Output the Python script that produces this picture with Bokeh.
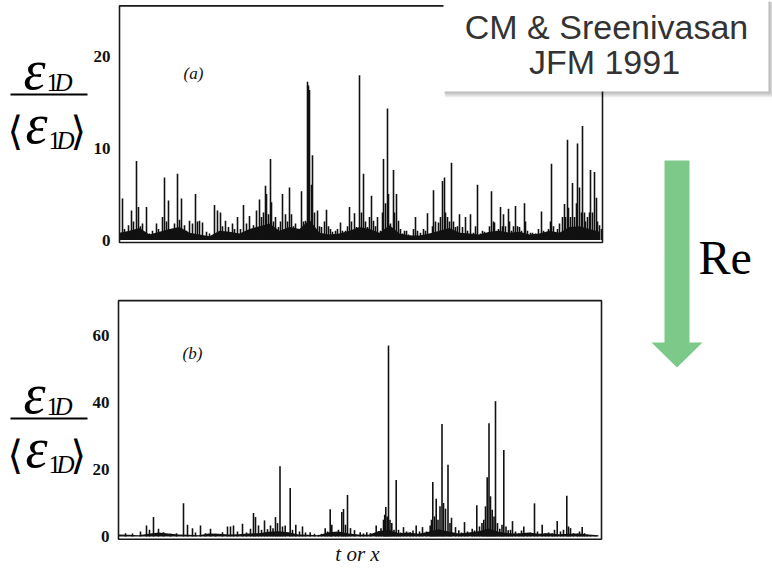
from bokeh.plotting import figure
from bokeh.models import Range1d
from bokeh.embed import file_html
from bokeh.resources import INLINE
from bokeh.core.properties import value

# ---------------- data ----------------
# panel (a): sample position along the record, spike height eps/<eps>
spikes_a = [
    (3, 4.5), (5, 1.2), (9, 1.6), (12, 3.2), (14, 2.0), (17, 8.6), (19, 3.6), (21, 1.5), (23, 1.8),
    (27, 3.6), (30, 0.7), (33, 1.0), (37, 1.8), (39, 1.2), (43, 2.5), (45, 6.8), (47, 2.0), (49, 4.3),
    (52, 1.0), (55, 1.8), (58, 7.2), (60, 2.2), (62, 4.5), (65, 1.6), (67, 1.0), (70, 2.1), (73, 1.8),
    (76, 5.0), (78, 2.0), (80, 2.1), (83, 1.9), (87, 0.9), (90, 0.7), (95, 3.8), (98, 3.2), (101, 3.0),
    (103, 1.5), (106, 2.1), (109, 1.4), (113, 1.8), (115, 1.2), (118, 2.5), (121, 1.2), (124, 3.8),
    (127, 1.8), (130, 2.6), (134, 1.6), (137, 3.2), (140, 4.4), (142, 2.5), (144, 3.0), (146, 5.9),
    (147, 5.0), (149, 2.8), (151, 8.8), (152, 4.1), (154, 2.0), (156, 2.5), (159, 1.4), (161, 2.0),
    (163, 5.0), (166, 2.8), (168, 2.0), (170, 5.7), (172, 2.8), (174, 1.5), (176, 1.8), (179, 1.0),
    (182, 5.3), (184, 2.0), (186, 2.1), (188, 17.2), (189, 16.8), (190, 16.3), (192, 6.0), (193, 9.2),
    (195, 3.0), (198, 3.2), (200, 1.5), (202, 1.4), (205, 2.0), (207, 3.3), (209, 1.5), (211, 1.2),
    (213, 0.9), (216, 1.0), (218, 1.2), (221, 1.9), (223, 1.0), (226, 1.0), (228, 1.5), (230, 3.6),
    (232, 2.0), (235, 2.9), (237, 1.4), (240, 17.9), (242, 3.0), (244, 7.2), (246, 2.0), (248, 1.4),
    (250, 2.5), (252, 4.8), (254, 2.1), (256, 1.5), (258, 2.5), (261, 1.0), (263, 3.0), (264, 8.8),
    (266, 4.0), (268, 14.3), (269, 5.0), (271, 1.8), (274, 7.6), (275, 3.0), (277, 5.0), (279, 2.1),
    (281, 1.2), (283, 0.7), (285, 1.0), (287, 1.0), (289, 0.6), (291, 0.5), (294, 1.2), (296, 2.5),
    (298, 1.0), (301, 0.8), (304, 1.2), (306, 1.0), (308, 2.9), (311, 0.7), (313, 1.5), (314, 5.4),
    (316, 2.0), (319, 1.9), (321, 2.5), (323, 6.4), (325, 6.8), (326, 3.0), (328, 2.5), (330, 2.0),
    (332, 8.4), (334, 2.0), (336, 1.4), (338, 1.5), (340, 2.8), (343, 1.4), (346, 2.5), (348, 1.0),
    (351, 2.8), (354, 0.8), (356, 1.5), (358, 6.0), (361, 0.7), (363, 1.0), (365, 0.9), (368, 0.7),
    (370, 1.5), (372, 5.3), (374, 2.0), (375, 1.9), (377, 1.0), (379, 1.2), (381, 3.6), (383, 1.5),
    (384, 2.8), (386, 1.5), (389, 3.4), (390, 2.0), (392, 1.0), (394, 1.5), (396, 3.7), (398, 1.5),
    (400, 1.4), (402, 1.0), (405, 4.0), (406, 2.0), (408, 1.0), (411, 0.8), (413, 0.8), (416, 0.7),
    (419, 1.2), (422, 3.1), (424, 1.0), (426, 0.7), (429, 1.2), (431, 2.0), (432, 8.3), (434, 1.5),
    (436, 0.8), (438, 1.2), (440, 1.8), (443, 2.5), (445, 3.9), (446, 2.5), (448, 10.9), (449, 3.5),
    (451, 2.5), (453, 6.2), (455, 2.5), (457, 4.0), (458, 10.5), (460, 5.7), (462, 3.0), (463, 12.4),
    (465, 3.0), (466, 2.0), (468, 2.5), (470, 3.0), (471, 7.6), (473, 3.0), (475, 7.4), (477, 4.6),
    (478, 2.0), (480, 1.6), (482, 1.2),
]
base_t_a = [0, 10, 20, 30, 40, 50, 60, 70, 80, 90, 100, 110, 120, 130, 140, 150, 160, 170, 180, 190,
            200, 210, 220, 230, 240, 250, 260, 270, 280, 290, 300, 310, 320, 330, 340, 350, 360, 370,
            380, 390, 400, 410, 420, 430, 440, 450, 460, 470, 480]
base_v_a = [0.8, 1.0, 1.3, 0.6, 0.9, 1.2, 1.4, 0.8, 0.6, 0.4, 1.0, 0.9, 0.7, 1.2, 1.5, 1.8, 1.0, 1.4,
            1.2, 2.2, 0.8, 0.6, 0.7, 1.0, 1.4, 1.2, 0.8, 1.6, 0.7, 0.5, 0.5, 0.7, 1.0, 1.3, 0.8, 0.7,
            0.6, 0.9, 1.0, 0.8, 0.9, 0.6, 0.7, 1.0, 0.8, 1.4, 1.5, 1.2, 0.9]

# panel (b)
spikes_b = [
    (7, 1.0), (14, 0.9), (22, 1.5), (28, 3.3), (31, 2.0), (35, 5.8), (40, 2.3), (45, 1.3), (52, 0.8),
    (58, 1.0), (65, 9.9), (69, 3.5), (74, 2.5), (77, 1.2), (82, 3.3), (87, 1.0), (92, 2.3), (97, 0.8),
    (104, 1.3), (109, 3.0), (112, 3.0), (115, 3.3), (119, 1.5), (124, 3.8), (128, 1.2), (132, 2.3),
    (135, 7.0), (137, 5.8), (140, 3.3), (143, 2.0), (146, 4.8), (149, 2.2), (152, 3.3), (154.5, 2.5),
    (157, 5.8), (159, 4.0), (161.5, 21.0), (164, 3.0), (166.7, 3.3), (171.7, 14.5), (174, 2.0),
    (177.3, 3.5), (181, 1.5), (184, 3.0), (187, 1.2), (191.7, 1.3), (196, 0.8), (200, 0.5), (203, 0.8),
    (206.7, 2.5), (209, 1.5), (211.7, 8.1), (213.3, 3.5), (217, 1.2), (220, 2.0), (223.3, 7.3),
    (225, 8.2), (227, 3.5), (229, 12.4), (232, 2.5), (236, 1.9), (241.7, 1.3), (245, 0.9), (248.3, 1.3),
    (252, 1.0), (257.7, 3.3), (260, 1.5), (262.5, 2.5), (265, 5.0), (266.2, 6.5), (267.3, 8.8),
    (268.7, 6.0), (270, 57.0), (271.5, 5.0), (273.3, 4.0), (275.5, 2.0), (277.7, 16.9), (280, 2.0),
    (282, 1.2), (285, 2.8), (288, 1.5), (291.7, 1.3), (294.5, 1.8), (297.7, 3.3), (301, 1.5),
    (304, 2.8), (308, 1.5), (311.7, 3.3), (313, 5.0), (314.3, 16.3), (316, 6.0), (317.7, 11.3),
    (319.5, 5.0), (321.5, 9.0), (323.5, 33.6), (325, 10.0), (327, 8.3), (329.5, 21.4), (331.5, 4.0),
    (333, 5.6), (337, 2.8), (340.3, 1.9), (343, 1.2), (346, 4.3), (349, 1.5), (353.7, 2.3), (356, 1.8),
    (358.3, 9.3), (361, 3.0), (363.5, 4.0), (365.3, 5.0), (367, 9.0), (368.7, 17.7), (370.5, 33.8),
    (372, 12.0), (373.7, 8.0), (375.5, 6.0), (377, 40.4), (379, 4.0), (381.3, 2.3), (383.5, 3.5),
    (385.3, 25.8), (387.5, 3.0), (389.7, 1.9), (392, 2.0), (394, 4.6), (397, 1.5), (400.3, 1.0),
    (403, 1.8), (405.3, 3.0), (409, 1.0), (412, 1.2), (416, 9.9), (419, 1.5), (423.7, 3.5), (427, 1.0),
    (430, 1.2), (433.7, 1.0), (436, 2.0), (438.7, 4.6), (442, 1.5), (445, 2.0), (448.3, 12.2),
    (450, 3.0), (452, 2.5), (455, 1.0), (458.7, 0.8), (461, 1.5), (463.7, 2.8), (466, 1.0),
    (468.7, 0.5), (472, 0.4), (477, 0.3),
]
base_t_b = [0, 10, 20, 30, 40, 50, 60, 70, 80, 90, 100, 110, 120, 130, 140, 150, 160, 170, 180, 190,
            200, 210, 220, 230, 240, 250, 260, 270, 280, 290, 300, 310, 320, 330, 340, 350, 360, 370,
            380, 390, 400, 410, 420, 430, 440, 450, 460, 470, 480]
base_v_b = [0.6, 0.5, 0.4, 0.8, 1.2, 0.9, 0.6, 0.5, 0.4, 0.9, 0.8, 0.6, 0.7, 0.9, 1.0, 1.4, 1.6, 1.3,
            0.6, 0.5, 0.4, 1.3, 1.5, 0.9, 0.6, 0.5, 1.6, 2.0, 1.0, 1.2, 0.8, 1.4, 2.2, 1.5, 0.9, 1.2,
            1.6, 2.4, 1.4, 1.0, 0.9, 1.2, 0.8, 1.0, 0.7, 0.8, 0.9, 0.6, 0.4]

ticks_a = [0, 10, 20]
tick_labels_a = ["0", "10", "20"]
ticks_b = [0, 20, 40, 60]
tick_labels_b = ["0", "20", "40", "60"]

# ---------------- layout constants (reference pixels) ----------------
W, H = 772, 572
A_LEFT, A_ZERO, A_PPU = 119.0, 239.5, 9.2
B_LEFT, B_ZERO, B_PPU = 118.0, 536.0, 3.35
REC_LEN = 483

p = figure(width=W, height=H, x_range=Range1d(0, W), y_range=Range1d(H, 0),
           output_backend="svg", toolbar_location=None, x_axis_location=None, y_axis_location=None,
           min_border=0, outline_line_color=None, background_fill_color="white",
           border_fill_color="white")
p.grid.visible = False


def xr(left):
    return Range1d(-left, W - left)


def yr(zero, ppu):
    return Range1d((zero - H) / ppu, zero / ppu)


p.extra_x_ranges = {"a": xr(A_LEFT), "b": xr(B_LEFT)}
p.extra_y_ranges = {"a": yr(A_ZERO, A_PPU), "b": yr(B_ZERO, B_PPU)}

serif = value("Liberation Serif")
sans = value("Liberation Sans")

panels = [
    ("a", spikes_a, base_t_a, base_v_a, ticks_a, tick_labels_a, -0.27, 25.45),
    ("b", spikes_b, base_t_b, base_v_b, ticks_b, tick_labels_b, -0.8, 70.4),
]
for name, spikes, bt, bv, ticks, tlabels, fbot, ftop in panels:
    st = [s[0] for s in spikes]
    sv = [s[1] for s in spikes]
    p.varea(x=bt, y1=0, y2=bv, fill_color="#111111", x_range_name=name, y_range_name=name)
    p.segment(x0=st, y0=[0] * len(st), x1=st, y1=sv, line_color="#111111", line_width=1.6,
              x_range_name=name, y_range_name=name)
    p.quad(left=0, right=REC_LEN, bottom=fbot, top=ftop, fill_color=None, line_color="#1a1a1a",
           line_width=1.6, x_range_name=name, y_range_name=name)
    p.text(x=[-9] * len(ticks), y=ticks, text=tlabels, text_align="right", text_baseline="middle",
           text_font=serif, text_font_size="17px", text_font_style="bold", text_color="#111111",
           x_range_name=name, y_range_name=name)

# panel tags and x label
p.text(x=[193], y=[73], text=["(a)"], text_align="center", text_baseline="middle", text_font=serif,
       text_font_size="17px", text_font_style="italic", text_color="#111111")
p.text(x=[192], y=[353], text=["(b)"], text_align="center", text_baseline="middle", text_font=serif,
       text_font_size="17px", text_font_style="italic", text_color="#111111")
p.text(x=[357], y=[553], text=["t or x"], text_align="center", text_baseline="middle",
       text_font=serif, text_font_size="21px", text_font_style="italic", text_color="#111111")

# fraction labels eps_1D / <eps_1D>   (middle baseline; glyph baseline ~0.34*size below)
for dy in (0, 324):
    p.text(x=[23], y=[69 + dy], text=["ε"], text_baseline="middle", text_font=serif,
           text_font_size="56px", text_font_style="italic", text_color="black")
    p.text(x=[46], y=[82 + dy], text=["1"], text_baseline="middle", text_font=serif,
           text_font_size="25px", text_color="black")
    p.text(x=[54], y=[82 + dy], text=["D"], text_baseline="middle", text_font=serif,
           text_font_size="25px", text_font_style="italic", text_color="black")
    p.segment(x0=[10], y0=[94 + dy], x1=[87], y1=[94 + dy], line_color="black", line_width=2)
    p.text(x=[7], y=[130 + dy], text=["⟨"], text_baseline="middle", text_font=value("DejaVu Serif"),
           text_font_size="40px", text_color="black")
    p.text(x=[25], y=[123 + dy], text=["ε"], text_baseline="middle", text_font=serif,
           text_font_size="56px", text_font_style="italic", text_color="black")
    p.text(x=[48], y=[140 + dy], text=["1"], text_baseline="middle", text_font=serif,
           text_font_size="25px", text_color="black")
    p.text(x=[56], y=[140 + dy], text=["D"], text_baseline="middle", text_font=serif,
           text_font_size="25px", text_font_style="italic", text_color="black")
    p.text(x=[70], y=[130 + dy], text=["⟩"], text_baseline="middle", text_font=value("DejaVu Serif"),
           text_font_size="40px", text_color="black")

# citation box with soft shadow
for k in range(1, 7):
    p.quad(left=443 + k * 0.3, right=768 + k, top=0 + k * 0.3, bottom=91 + k, fill_color="#000000",
           fill_alpha=0.05, line_color=None)
p.quad(left=443, right=768, top=0, bottom=91, fill_color="white", line_color=None)
p.text(x=[606], y=[26], text=["CM & Sreenivasan"], text_align="center", text_baseline="middle",
       text_font=sans, text_font_size="34px", text_color="#333333")
p.text(x=[604], y=[61], text=["JFM 1991"], text_align="center", text_baseline="middle",
       text_font=sans, text_font_size="34px", text_color="#333333")

# green arrow and Re label
p.patch(x=[664, 689, 689, 702, 676.5, 651, 664], y=[160, 160, 342, 342, 367, 342, 342],
        fill_color="#7DC98A", line_color=None)
p.text(x=[698], y=[257], text=["Re"], text_baseline="middle", text_font=serif,
       text_font_size="48px", text_color="black")

open("out.html", "w").write(file_html(p, INLINE))
